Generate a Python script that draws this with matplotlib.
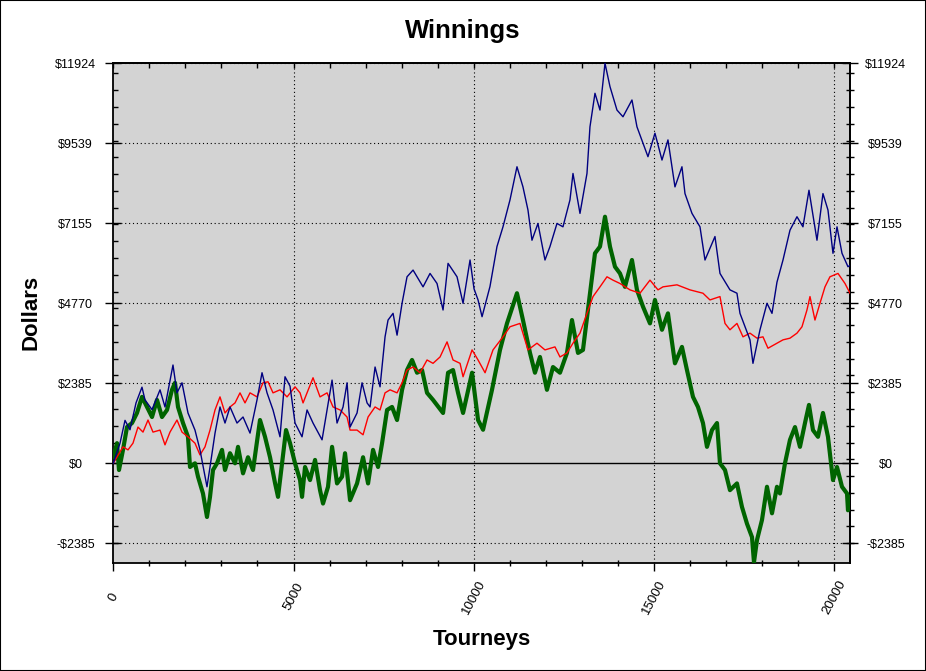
import matplotlib
matplotlib.use("Agg")
import matplotlib.pyplot as plt
import numpy as np
from matplotlib.patches import Rectangle

# values (tourneys, dollars)
blue_t = [0, 186, 325, 463, 630, 796, 879, 1074, 1296, 1434, 1656, 1767, 1906, 2072, 2266, 2405, 2599, 2683, 2822,
          2960, 3099, 3238, 3432, 3599, 3793, 3987, 4126, 4265, 4431, 4625, 4764, 4903, 5042, 5236, 5375, 5541, 5791,
          5930, 6069, 6207, 6374, 6485, 6568, 6762, 6901, 7040, 7123, 7262, 7400, 7539, 7622, 7761, 7872, 8011, 8149,
          8316, 8593, 8787, 8981, 9148, 9287, 9536, 9703, 9897, 10008, 10119, 10230, 10450, 10644, 10811, 11005, 11199,
          11365, 11504, 11615, 11781, 11976, 12114, 12309, 12475, 12669, 12753, 12947, 13141, 13224, 13363, 13502,
          13641, 13779, 13973, 14140, 14389, 14528, 14695, 14833, 15027, 15222, 15388, 15582, 15776, 15860, 16054,
          16276, 16415, 16692, 16831, 17108, 17302, 17386, 17663, 17746, 17941, 18135, 18274, 18412, 18579, 18773,
          18967, 19133, 19300, 19522, 19688, 19827, 19966, 20077, 20216, 20382, 20438]
blue_v = [0, 600, 1280, 1000, 1800, 2270, 1890, 1600, 2190, 1680, 2930, 2100, 2400, 1500, 990, 400, -700, -110, 900,
          1680, 1200, 1680, 1200, 1380, 900, 1890, 2700, 2100, 1590, 790, 2580, 2300, 1200, 790, 1590, 1200, 700,
          1590, 2480, 1200, 1680, 2400, 1080, 1500, 2400, 1800, 1680, 2870, 2280, 3770, 4270, 4470, 3820, 4770, 5560,
          5760, 5260, 5660, 5360, 4570, 5960, 5560, 4770, 6060, 5200, 4870, 4370, 5270, 6460, 7050, 7850, 8840,
          8240, 7550, 6650, 7150, 6060, 6460, 7150, 7050, 7850, 8640, 7450, 8640, 10030, 11030, 10530,
          11924, 11230, 10530, 10330, 10830, 10030, 9540, 9140, 9840, 9040, 9640, 8240, 8840, 8040, 7450,
          7050, 6060, 6760, 5660, 5170, 5070, 4470, 3680, 2980, 3980, 4770, 4470, 5400, 6060, 6950,
          7350, 7050, 8140, 6650, 8040, 7550, 6260, 7050, 6260, 5860, 5900]

red_t = [0, 269, 408, 546, 685, 824, 963, 1101, 1296, 1434, 1573, 1767, 1906, 2072, 2266, 2405, 2544, 2683, 2822,
         2960, 3099, 3238, 3377, 3515, 3654, 3793, 3987, 4154, 4292, 4431, 4625, 4820, 5042, 5181, 5264, 5541, 5735,
         5930, 6096, 6291, 6485, 6568, 6762, 6929, 7068, 7262, 7400, 7539, 7678, 7872, 8011, 8149, 8316, 8510, 8704,
         8870, 9065, 9259, 9425, 9620, 9703, 9953, 10119, 10314, 10534, 10811, 11005, 11282, 11504, 11754, 11976,
         12253, 12392, 12586, 12753, 12947, 13141, 13308, 13502, 13696, 13862, 14057, 14334, 14611, 14889, 15111,
         15249, 15638, 15998, 16359, 16553, 16831, 16970, 17108, 17302, 17469, 17663, 17857, 18024, 18163, 18412,
         18579, 18773, 18967, 19106, 19244, 19328, 19466, 19605, 19744, 19882, 20105, 20299, 20438]
red_v = [0, 490, 400, 600, 1080, 930, 1290, 930, 990, 550, 930, 1290, 930, 790, 600, 250, 490, 990, 1590,
         1980, 1500, 1680, 1800, 2100, 1800, 2100, 1980, 2400, 2430, 2100, 2190, 1980, 2280, 2100, 1800, 2550, 1980,
         2100, 1680, 1590, 1380, 990, 990, 850, 1380, 1680, 1590, 2100, 2190, 2100, 2400, 2780, 2870, 2700, 3080,
         2980, 3170, 3620, 3080, 2980, 2580, 3380, 3080, 2700, 3380, 3770, 4070, 4170, 3380, 3580, 3380,
         3470, 3170, 3290, 3580, 3880, 4470, 4970, 5260, 5560, 5460, 5360, 5170, 5070, 5460, 5170,
         5260, 5320, 5170, 5070, 4870, 4970, 4170, 3980, 4170, 3770, 3880, 3730, 3770, 3430, 3580,
         3680, 3730, 3880, 4070, 4570, 4970, 4270, 4770, 5260, 5560, 5660, 5360, 5070]

green_t = [0, 103, 158, 269, 380, 519, 657, 796, 935, 1074, 1212, 1351, 1490, 1628, 1712, 1795, 1934, 2072, 2128,
           2266, 2350, 2488, 2599, 2683, 2766, 2877, 3016, 3099, 3238, 3377, 3460, 3599, 3737, 3876, 4070, 4209,
           4348, 4487, 4570, 4681, 4792, 4903, 5042, 5181, 5236, 5319, 5458, 5597, 5735, 5818, 5957, 6069, 6207,
           6346, 6429, 6568, 6762, 6929, 7068, 7206, 7345, 7456, 7595, 7733, 7872, 8011, 8149, 8288, 8427, 8565,
           8704, 8870, 9148, 9287, 9425, 9564, 9703, 9953, 10119, 10258, 10506, 10728, 10922, 11199, 11365, 11560,
           11698, 11837, 12031, 12198, 12392, 12586, 12725, 12892, 13030, 13224, 13363, 13502, 13641, 13779, 13918,
           14057, 14195, 14389, 14528, 14695, 14889, 15027, 15222, 15388, 15582, 15776, 15915, 16082, 16220, 16359,
           16470, 16609, 16748, 16831, 16970, 17108, 17302, 17441, 17580, 17719, 17774, 17857, 17996, 18135, 18274,
           18412, 18495, 18634, 18773, 18912, 19050, 19189, 19300, 19411, 19550, 19688, 19827, 19966, 20077, 20216,
           20355, 20382, 20438]
green_v = [180, 600, -200, 400, 1080, 1200, 1500, 1980, 1680, 1380, 1890, 1380, 1590, 2190, 2400, 1680, 1200, 790, -110,
           0, -400, -900, -1600, -1000, -200, 0, 400, -200, 300, 0, 490, -300, 180, -200, 1290, 790,
           180, -590, -1000, 0, 990, 600, 0, -500, -1000, -110, -500, 100, -800, -1200, -700, 490, -600,
           -400, 300, -1100, -600, 180, -600, 400, -110, 600, 1590, 1680, 1290, 2190, 2780, 3080, 2700, 2780,
           2100, 1890, 1500, 2700, 2780, 2100, 1500, 2700, 1290, 1000, 2190, 3380, 4170, 5070, 4270, 3290,
           2700, 3170, 2190, 2870, 2700, 3290, 4270, 3290, 3380, 5070, 6260, 6460, 7350, 6460, 5860,
           5660, 5260, 6060, 5170, 4670, 4170, 4870, 3980, 4470, 2980, 3470, 2780, 1980, 1680, 1200,
           490, 990, 1200, 0, -200, -800, -600, -1300, -1800, -2200, -2950, -2290, -1690, -700, -1490,
           -700, -900, 0, 700, 1080, 490, 1200, 1740, 990, 790, 1500, 790, -500, -110, -700,
           -900, -1400, -1000]

y_ticks = [-2385, 0, 2385, 4770, 7155, 9539, 11924]
y_labels = ["-$2385", "$0", "$2385", "$4770", "$7155", "$9539", "$11924"]
x_ticks = [0, 5000, 10000, 15000, 20000]

plt.rcParams['font.family'] = ['Liberation Sans', 'DejaVu Sans']

fig = plt.figure(figsize=(9.26, 6.71), dpi=100)
ax = fig.add_axes([113.3 / 926, 1 - 563.3 / 671, (850 - 113.3) / 926, (563.3 - 63.3) / 671])
ax.set_facecolor('#d3d3d3')

ax.plot(green_t, green_v, color='#006400', lw=3.0, zorder=3)
ax.plot(red_t, red_v, color='#ff0000', lw=1.0, zorder=4)
ax.plot(blue_t, blue_v, color='#000080', lw=1.0, zorder=5)

ax.set_xlim(0, 20438)
ax.set_ylim(-2981, 11924)

# grid: dotted at major ticks, solid zero line
for yv in y_ticks:
    if yv == 0:
        ax.axhline(0, color='black', lw=1.0, zorder=2)
    else:
        ax.axhline(yv, color='black', lw=0.8, ls=(0, (1, 2.5)), zorder=1)
for xv in x_ticks[1:]:
    ax.axvline(xv, color='black', lw=0.8, ls=(0, (1, 2.5)), zorder=1)

for s in ax.spines.values():
    s.set_linewidth(1.3)

ax.set_xticks(x_ticks)
ax.set_xticks([v for v in range(1000, 20001, 1000) if v % 5000], minor=True)
ax.set_xticklabels([str(v) for v in x_ticks], rotation=62, ha='center', va='center', fontsize=9.5)
ax.tick_params(axis='x', which='major', direction='out', length=5.8, width=1, pad=18.5)
ax.tick_params(axis='x', which='minor', direction='inout', length=5, width=1)

ax.set_yticks(y_ticks)
ax.set_yticks(list(range(-2380, 11924, 500)), minor=True)
ax.set_yticklabels(y_labels, fontsize=9, ha='center')
ax.tick_params(axis='y', which='major', direction='inout', length=11.5, width=1, pad=21.5)
ax.tick_params(axis='y', which='minor', direction='in', length=3.6, width=1)

top = ax.secondary_xaxis('top')
top.set_xticks(x_ticks)
top.set_xticks([v for v in range(1000, 20001, 1000) if v % 5000], minor=True)
top.set_xticklabels([])
top.tick_params(which='both', direction='in', length=3.6, width=1)
top.spines['top'].set_linewidth(1.3)

right = ax.secondary_yaxis('right')
right.set_yticks(y_ticks)
right.set_yticks(list(range(-2380, 11924, 500)), minor=True)
right.set_yticklabels(y_labels, fontsize=9, ha='center')
right.tick_params(which='major', direction='inout', length=11, width=1, pad=20)
right.tick_params(which='minor', direction='inout', length=5.5, width=1)
right.spines['right'].set_linewidth(1.3)

fig.text(0.5, 1 - 31 / 671, 'Winnings', ha='center', va='center', fontsize=18.5, fontweight='bold')
fig.text(481.6 / 926, 1 - 640 / 671, 'Tourneys', ha='center', va='center', fontsize=16, fontweight='bold')
fig.text(31 / 926, 1 - 312 / 671, 'Dollars', ha='center', va='center', rotation=90, fontsize=16, fontweight='bold')

fig.patches.append(Rectangle((0, 0), 1, 1, transform=fig.transFigure, fill=False,
                             edgecolor='black', lw=1.5, zorder=10))

fig.savefig('out.png', dpi=100)
